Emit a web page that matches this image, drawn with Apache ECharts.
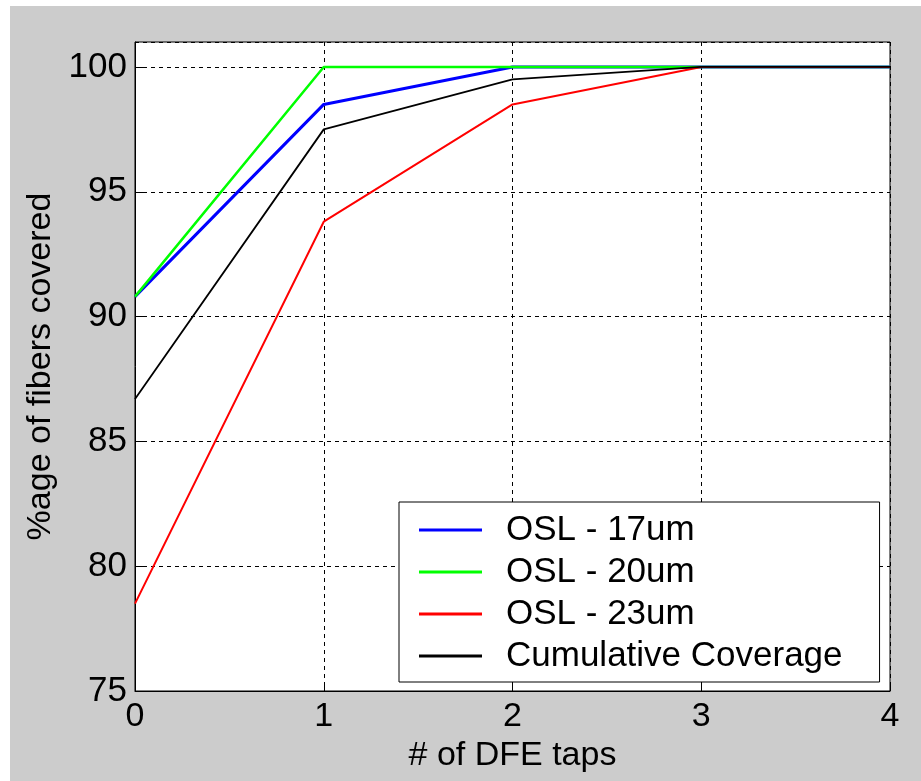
<!DOCTYPE html>
<html>
<head>
<meta charset="utf-8">
<script src="https://cdn.jsdelivr.net/npm/echarts@6/dist/echarts.min.js"></script>
<style>
  html, body { margin: 0; padding: 0; background: #ffffff; }
  #chart { position: absolute; left: 10px; top: 6px; width: 911px; height: 775px; }
</style>
</head>
<body>
<div id="chart"></div>
<script>
// # of DFE taps
var taps = [0, 1, 2, 3, 4];
// %age of fibers covered
var osl17 = [90.8, 98.5, 100, 100, 100];
var osl20 = [90.8, 100, 100, 100, 100];
var osl23 = [78.5, 93.8, 98.5, 100, 100];
var cumulative = [86.7, 97.5, 99.5, 100, 100];

var seriesNames = ['OSL - 17um', 'OSL - 20um', 'OSL - 23um', 'Cumulative Coverage'];
var seriesColors = ['#0000ff', '#00ff00', '#ff0000', '#000000'];
var seriesWidths = [3, 2.5, 2, 1.8];
var seriesData = [osl17, osl20, osl23, cumulative];

var font = 'Liberation Sans, Arial, sans-serif';

function pairs(ys) {
  return taps.map(function (x, i) { return [x, ys[i]]; });
}

var chart = echarts.init(document.getElementById('chart'));
var option = {
  backgroundColor: '#cccccc',
  animation: false,
  textStyle: { fontFamily: font, color: '#000' },
  grid: {
    left: 125, top: 36, width: 755, height: 649,
    show: true, backgroundColor: '#ffffff', borderColor: '#000', borderWidth: 1
  },
  legend: {
    orient: 'vertical',
    left: 389, top: 496,
    backgroundColor: '#ffffff',
    borderColor: '#000', borderWidth: 1,
    padding: [7, 37, 5, 20],
    itemWidth: 63, itemHeight: 3, itemGap: 0,
    icon: 'rect',
    textStyle: { fontFamily: font, fontSize: 35, color: '#000', lineHeight: 42, padding: [0, 0, 0, 19] },
    data: seriesNames
  },
  xAxis: {
    type: 'value',
    min: 0, max: 4, interval: 1,
    name: '# of DFE taps',
    nameLocation: 'middle',
    nameGap: 43,
    nameTextStyle: { fontFamily: font, fontSize: 34, color: '#000' },
    axisLine: { lineStyle: { color: '#000', width: 1 } },
    axisTick: { inside: true, length: 8, lineStyle: { color: '#000' } },
    axisLabel: { fontFamily: font, fontSize: 34, color: '#000', margin: 9 },
    splitLine: { show: true, lineStyle: { color: '#000', type: [4, 4], width: 1 } }
  },
  yAxis: {
    type: 'value',
    min: 75, max: 101, interval: 5,
    name: '%age of fibers covered',
    nameLocation: 'middle',
    nameGap: 64,
    nameTextStyle: { fontFamily: font, fontSize: 34, color: '#000' },
    axisLine: { show: true, lineStyle: { color: '#000', width: 1 } },
    axisTick: { show: true, inside: true, length: 8, lineStyle: { color: '#000' } },
    axisLabel: { fontFamily: font, fontSize: 35, color: '#000', margin: 8, showMaxLabel: false },
    splitLine: { show: true, lineStyle: { color: '#000', type: [4, 4], width: 1 } }
  },
  series: seriesNames.map(function (name, i) {
    return {
      name: name,
      type: 'line',
      symbol: 'none',
      data: pairs(seriesData[i]),
      lineStyle: { color: seriesColors[i], width: seriesWidths[i] },
      itemStyle: { color: seriesColors[i] },
      z: 2 + i
    };
  })
};
chart.setOption(option);
</script>
</body>
</html>
